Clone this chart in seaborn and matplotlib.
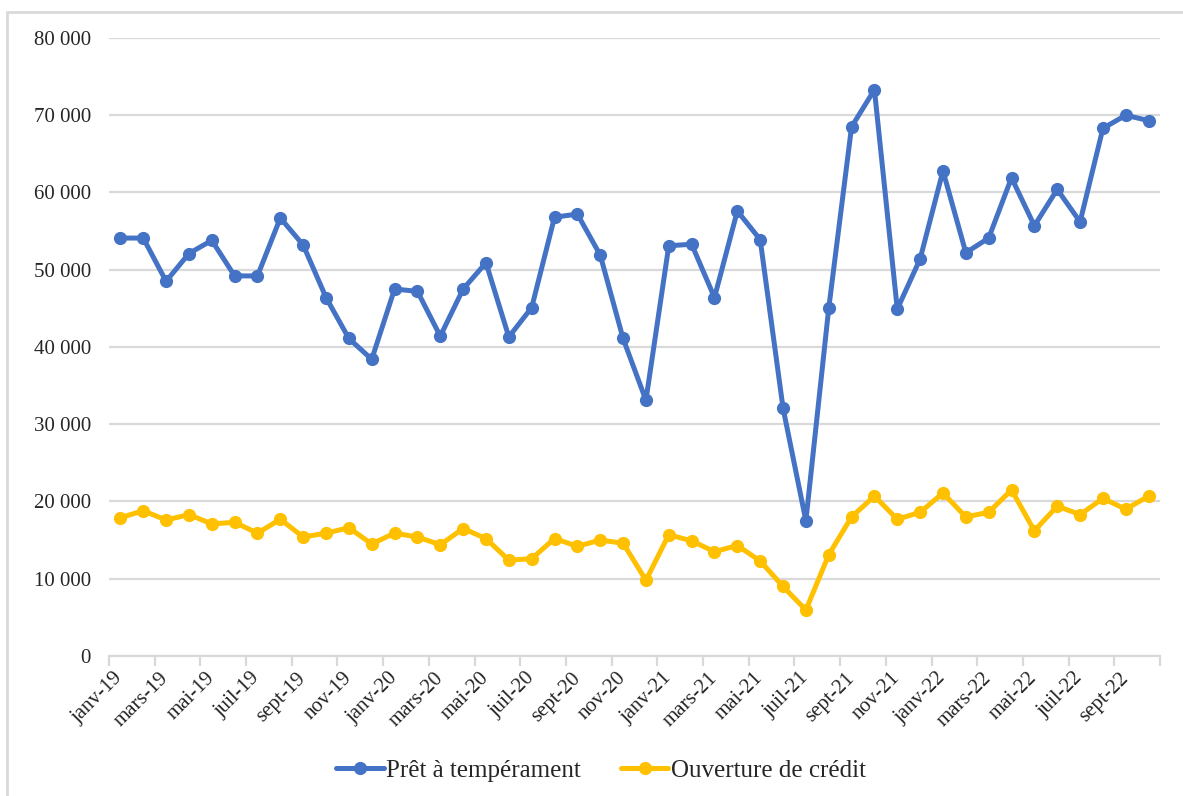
import numpy as np
import pandas as pd
import seaborn as sns
import matplotlib.pyplot as plt
from matplotlib.patches import Rectangle
from matplotlib.ticker import FixedLocator, FuncFormatter

# Monthly series, janv-19 .. oct-22
months = [
    "janv-19", "févr-19", "mars-19", "avr-19", "mai-19", "juin-19", "juil-19", "août-19",
    "sept-19", "oct-19", "nov-19", "déc-19",
    "janv-20", "févr-20", "mars-20", "avr-20", "mai-20", "juin-20", "juil-20", "août-20",
    "sept-20", "oct-20", "nov-20", "déc-20",
    "janv-21", "févr-21", "mars-21", "avr-21", "mai-21", "juin-21", "juil-21", "août-21",
    "sept-21", "oct-21", "nov-21", "déc-21",
    "janv-22", "févr-22", "mars-22", "avr-22", "mai-22", "juin-22", "juil-22", "août-22",
    "sept-22", "oct-22",
]

pret_temperament = [
    54100, 54100, 48500, 52100, 53800, 49200, 49200, 56700, 53200, 46400, 41100, 38400,
    47500, 47200, 41400, 47500, 50900, 41300, 45100, 56800, 57200, 51900, 41100, 33100,
    53100, 53300, 46400, 57600, 53900, 32100, 17500, 45000, 68500, 73300, 44900, 51400,
    62800, 52200, 54100, 61900, 55700, 60400, 56200, 68300, 70000, 69300,
]

ouverture_credit = [
    17900, 18800, 17600, 18300, 17100, 17300, 15900, 17700, 15400, 15900, 16600, 14500,
    15900, 15400, 14400, 16500, 15200, 12400, 12600, 15200, 14200, 15000, 14600, 9800,
    15700, 14900, 13500, 14300, 12300, 9000, 5950, 13100, 18000, 20700, 17700, 18600,
    21100, 18000, 18600, 21500, 16200, 19400, 18300, 20400, 19000, 20700,
]

series_names = ["Prêt à tempérament", "Ouverture de crédit"]
colors = ["#4472C4", "#FFC000"]

sns.set_theme(style="white")
plt.rcParams["font.family"] = ["Liberation Serif", "DejaVu Serif"]

n = len(months)
df = pd.DataFrame({
    "idx": list(range(n)) * 2,
    "valeur": pret_temperament + ouverture_credit,
    "serie": [series_names[0]] * n + [series_names[1]] * n,
})

fig = plt.figure(figsize=(11.83, 7.96), dpi=100)
ax = fig.add_axes([0.0921, 0.1759, 0.9806 - 0.0921, 0.9523 - 0.1759])

sns.lineplot(
    data=df, x="idx", y="valeur", hue="serie", palette=colors,
    marker="o", markersize=9.5, markeredgewidth=0, linewidth=3.6,
    ax=ax, legend=False, zorder=3,
)

# Axes ranges and grid
ax.set_xlim(-0.5, n - 0.5)
ax.set_ylim(0, 80000)
ax.yaxis.set_major_locator(FixedLocator(np.arange(0, 80001, 10000)))
ax.yaxis.set_major_formatter(FuncFormatter(lambda v, p: f"{int(v):,}".replace(",", " ")))
ax.grid(axis="y", color="#D9D9D9", linewidth=1.6)
ax.grid(axis="x", visible=False)
ax.set_xlabel("")
ax.set_ylabel("")

for side in ["top", "right", "left"]:
    ax.spines[side].set_visible(False)
ax.spines["bottom"].set_color("#D9D9D9")
ax.spines["bottom"].set_linewidth(1.6)

# Category boundaries as tick marks, labels centred on every other month
ax.xaxis.set_major_locator(FixedLocator(np.arange(-0.5, n, 2)))
ax.xaxis.set_major_formatter(FuncFormatter(lambda v, p: ""))
ax.xaxis.set_minor_locator(FixedLocator(np.arange(0, n, 2)))
ax.set_xticklabels([months[i] for i in range(0, n, 2)], minor=True)
ax.tick_params(axis="x", which="major", length=7, width=1.6, color="#D9D9D9", direction="out", bottom=True)
ax.tick_params(axis="x", which="minor", length=0, pad=14, labelsize=15, bottom=True)
for lbl in ax.get_xticklabels(minor=True):
    lbl.set_rotation(45)
    lbl.set_ha("right")
    lbl.set_va("center")
    lbl.set_rotation_mode("anchor")
    lbl.set_color("#262626")
ax.tick_params(axis="y", length=0, pad=13, labelsize=15, labelcolor="#262626")

# Legend below the plot
handles = [
    plt.Line2D([], [], color=c, linewidth=3.6, marker="o", markersize=9.5, markeredgewidth=0)
    for c in colors
]
fig.legend(
    handles, series_names, loc="center", bbox_to_anchor=(0.508, 0.032),
    ncol=2, frameon=False, fontsize=18, handlelength=1.9, handletextpad=0.1,
    columnspacing=1.6,
)

# Light frame around the chart
fig.patches.append(Rectangle((7 / 1183, -0.01), 1.2, 1 - 12 / 796 + 0.01,
                             transform=fig.transFigure, fill=False,
                             edgecolor="#D9D9D9", linewidth=2))

fig.savefig("out.png", dpi=100)
